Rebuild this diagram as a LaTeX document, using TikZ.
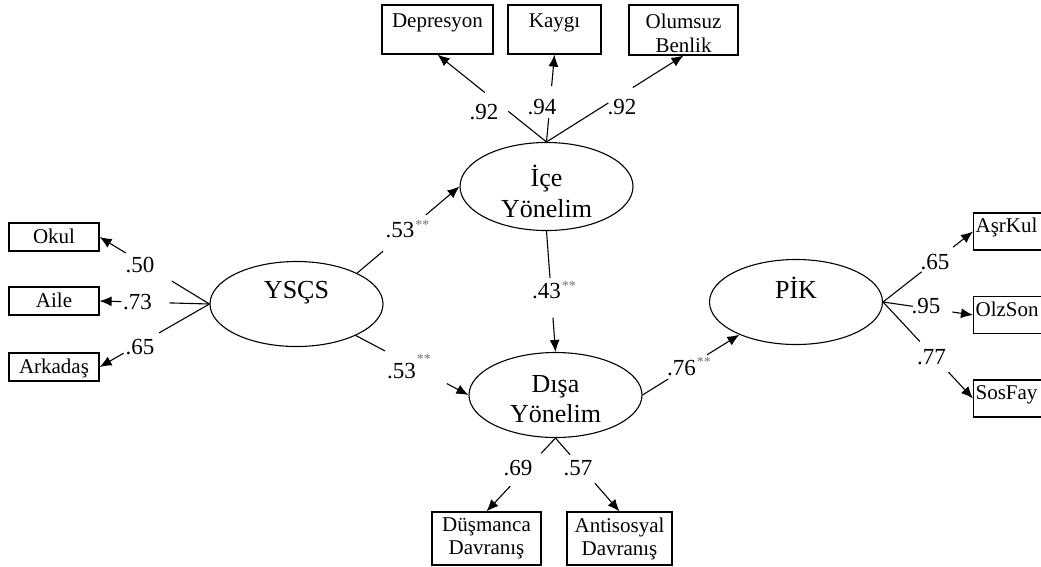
\documentclass[tikz,border=0pt]{standalone}
\usepackage{fontspec}
\setmainfont{Liberation Serif}
\usetikzlibrary{arrows.meta,shapes.geometric}
\newcommand\mystars[1]{\rlap{\kern1pt\raisebox{#1}{\fontsize{14}{14}\selectfont\color{black!55}**}}}
\begin{document}
\begin{tikzpicture}[x=1pt,y=-1pt,
  lat/.style={ellipse,draw,line width=1.1pt,minimum width=173pt,minimum height=85pt,inner sep=0pt,font=\fontsize{26}{31}\selectfont},
  obs/.style={rectangle,draw,line width=1.2pt,inner sep=0pt,font=\fontsize{21}{24}\selectfont,align=center},
  rbox/.style={obs,anchor=west,minimum width=95pt,minimum height=37pt,text width=91pt,inner xsep=2pt,align=left,text height=14pt,text depth=12pt},
  lbox/.style={obs,minimum width=90pt,minimum height=28pt,text height=14pt,text depth=1pt},
  conn/.style={line width=1.1pt,-{Latex[length=12pt,width=10pt]}},
  lbl/.style={font=\fontsize{23}{23}\selectfont,inner sep=0pt}
]
\useasboundingbox (0,0) rectangle (1041,566);

% latent variables
\node[lat,align=center] (ice) at (546.5,186.5) {\rule{0pt}{31pt}İçe\\Yönelim};
\node[lat,text height=19pt,text depth=31pt] (ys) at (296.5,304) {YSÇS};
\node[lat,align=center,font=\fontsize{26}{30}\selectfont] (dis) at (555.5,395) {\rule{0pt}{26pt}Dışa\\Yönelim};
\node[lat,text height=19pt,text depth=27pt] (pik) at (796,302) {PİK};

% observed variables
\node[obs,minimum width=111pt,minimum height=49pt] (dep) at (437.5,29.5) {\rule{0pt}{21pt}Depresyon\\\phantom{Benlik}};
\node[obs,minimum width=93pt,minimum height=49pt] (kay) at (554.5,29.5) {\rule{0pt}{21pt}Kaygı\\\phantom{Benlik}};
\node[obs,minimum width=109pt,minimum height=50pt] (olu) at (683.5,30) {\rule{0pt}{21pt}Olumsuz\\Benlik};

\node[lbox] (okul) at (54,237) {Okul};
\node[lbox] (aile) at (54,301) {Aile};
\node[lbox] (ark) at (54,367) {Arkadaş};

\node[rbox] (asr) at (973,231.5) {AşrKul};
\node[rbox] (ols) at (973,315) {OlzSon};
\node[rbox] (sos) at (973,398.5) {SosFay};

\node[obs,minimum width=109pt,minimum height=53pt,font=\fontsize{21}{23}\selectfont] (dus) at (486.5,538.5) {Düşmanca\\Davranış};
\node[obs,minimum width=105pt,minimum height=53pt,font=\fontsize{21}{23}\selectfont] (ant) at (619.5,538.5) {Antisosyal\\Davranış};

% connectors (gaps where the coefficients sit)
\draw[conn,dash pattern=on 49pt off 30pt on 500pt] (ice.north) -- (dep.south);
\draw[conn,dash pattern=on 24pt off 32pt on 500pt] (ice.north) -- (kay.south);
\draw[conn,dash pattern=on 73pt off 29pt on 500pt] (ice.north) -- (olu.south);

\draw[conn,dash pattern=on 44pt off 54pt on 500pt] (ys.west) -- (okul.east);
\draw[conn,dash pattern=on 40pt off 48pt on 500pt] (ys.west) -- (aile.east);
\draw[conn,dash pattern=on 58pt off 41pt on 500pt] (ys.west) -- (ark.east);

\draw[conn,dash pattern=on 34pt off 56pt on 500pt] (ys.27) -- (ice.west);
\draw[conn,dash pattern=on 33pt off 70pt on 500pt] (ys.-28) -- (dis.west);
\draw[conn,dash pattern=on 47pt off 40pt on 500pt] (ice.south) -- (dis.north);
\draw[conn,dash pattern=on 30pt off 46pt on 500pt] (dis.east) -- (pik.210);

\draw[conn,dash pattern=on 49pt off 40pt on 500pt] (pik.east) -- (asr.west);
\draw[conn,dash pattern=on 30pt off 40pt on 500pt] (pik.east) -- (ols.west);
\draw[conn,dash pattern=on 54pt off 42pt on 500pt] (pik.east) -- (sos.west);

\draw[conn,dash pattern=on 21pt off 45pt on 500pt] (dis.south) -- (dus.north);
\draw[conn,dash pattern=on 22pt off 38pt on 500pt] (dis.south) -- (ant.north);

% coefficients
\node[lbl] (c1) at (484,112) {.92};
\node[lbl] (c2) at (542,107) {.94};
\node[lbl] (c3) at (622,107) {.92};
\node[lbl] (c4) at (140,265) {.50};
\node[lbl] (c5) at (137.5,302.5) {.73};
\node[lbl] (c6) at (140,347) {.65};
\node[lbl] (c7) at (400,229) {.53\mystars{8pt}};
\node[lbl] (c8) at (401.5,367) {.53\mystars{15pt}};
\node[lbl] (c9) at (546.5,290) {.43\mystars{8pt}};
\node[lbl] (c10) at (681.5,367) {.76\mystars{9pt}};
\node[lbl] (c11) at (935,262) {.65};
\node[lbl] (c12) at (926,306.5) {.95};
\node[lbl] (c13) at (931.5,357.5) {.77};
\node[lbl] (c14) at (518,468) {.69};
\node[lbl] (c15) at (578,468) {.57};
\end{tikzpicture}
\end{document}
